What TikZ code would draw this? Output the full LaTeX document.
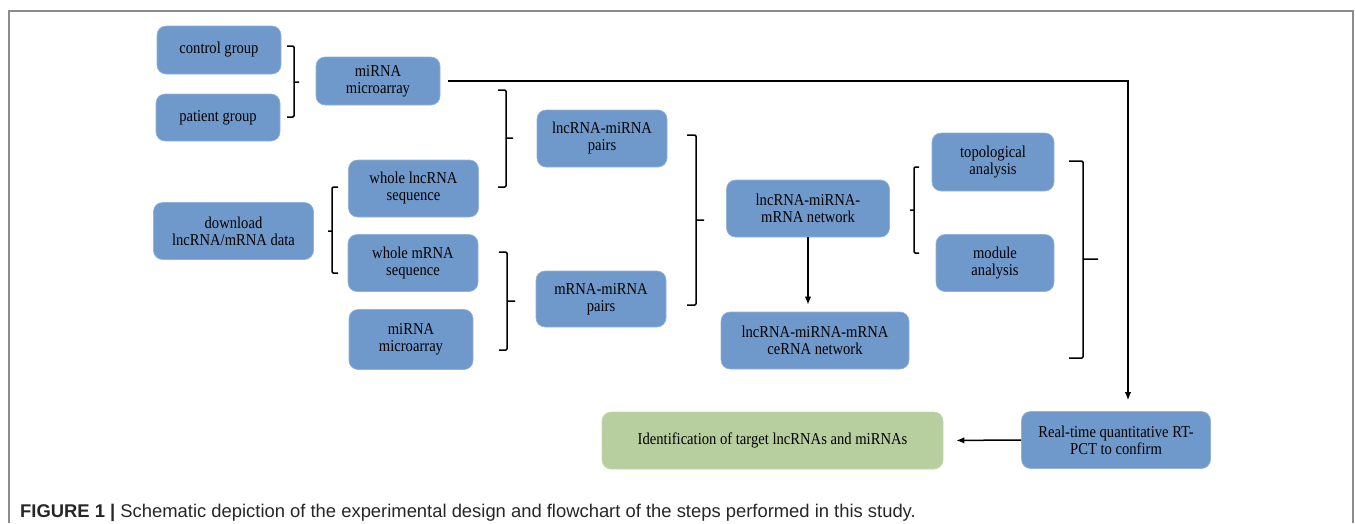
\documentclass[tikz,border=0pt]{standalone}
\usepackage{fontspec}
\setmainfont{Liberation Serif}[FakeStretch=0.88]
\newfontfamily\capfont{Liberation Sans}
\usepackage{xcolor}
\usetikzlibrary{arrows.meta,positioning}
\definecolor{boxblue}{HTML}{7099CB}
\definecolor{boxgreen}{HTML}{B7CE9E}
\definecolor{framegray}{HTML}{8C8C8C}

\begin{document}
\begin{tikzpicture}[
  x=1pt,y=-1pt,
  box/.style={draw=boxblue!75!white,line width=0.6pt,fill=boxblue,rounded corners=9pt,
              align=center,inner sep=0pt,
              font=\fontsize{16.6}{17}\selectfont},
  result/.style={box,fill=boxgreen,draw=boxgreen!80!white},
  flow/.style={-{Latex[length=8pt,width=6.5pt]},line width=1.5pt},
  brace/.style={line width=1.5pt,rounded corners=1.2pt}
]
\useasboundingbox (0,0) rectangle (1355,523);
\draw[framegray,line width=1.5pt] (9,523) -- (9,11) -- (1353,11) -- (1353,523);

% input groups
\node[box,minimum width=124pt,minimum height=48pt] (ctrl) at (219,50) {control group};
\node[box,minimum width=124pt,minimum height=47pt] (pat) at (218,117.5) {patient group};
\node[box,minimum width=124pt,minimum height=48pt] (mirA) at (378,81) {miRNA\\microarray};
\node[box,minimum width=160pt,minimum height=57pt] (dl) at (233.5,231) {download\\lncRNA/mRNA data};
\node[box,minimum width=130pt,minimum height=57pt] (wlnc) at (413.5,188.5) {whole lncRNA\\sequence};
\node[box,minimum width=130pt,minimum height=57pt] (wm) at (413,263) {whole mRNA\\sequence};
\node[box,minimum width=124pt,minimum height=60pt] (mirB) at (411,339.5) {miRNA\\microarray};

% pairs and network
\node[box,minimum width=130pt,minimum height=57pt] (lpair) at (602,138.5) {lncRNA-miRNA\\pairs};
\node[box,minimum width=130pt,minimum height=56pt] (mpair) at (601,299) {mRNA-miRNA\\pairs};
\node[box,minimum width=163pt,minimum height=57pt] (net) at (808,208.5) {lncRNA-miRNA-\\mRNA network};
\node[box,minimum width=188pt,minimum height=57pt] (cerna) at (815,340.5) {lncRNA-miRNA-mRNA\\ceRNA network};
\node[box,minimum width=122pt,minimum height=58pt] (topo) at (993,162) {topological\\analysis};
\node[box,minimum width=118pt,minimum height=57pt] (modu) at (995,263) {module\\analysis};

% validation
\node[box,minimum width=189pt,minimum height=57pt] (rt) at (1116,440) {Real-time quantitative RT-\\PCT to confirm};
\node[result,minimum width=341pt,minimum height=57pt] (ident) at (772.5,440.5) {Identification of target lncRNAs and miRNAs};

% brackets
\draw[brace] (287,46) -- (294,46) -- (294,117) -- (287,117) (294,82) -- (299,82);
\draw[brace] (498,90) -- (506,90) -- (506,187) -- (498,187) (506,138) -- (513,138);
\draw[brace] (338,187) -- (332,187) -- (332,273) -- (338,273) (332,231) -- (328,231);
\draw[brace] (499,252) -- (507,252) -- (507,350) -- (499,350) (507,301) -- (515,301);
\draw[brace] (687,135) -- (696,135) -- (696,305) -- (687,305) (696,220) -- (704,220);
\draw[brace] (919,167) -- (914,167) -- (914,253) -- (919,253) (914,210) -- (910,210);
\draw[brace] (1069,161) -- (1083,161) -- (1083,358) -- (1069,358) (1083,259) -- (1098,259);

% connectors
\coordinate (turn) at (1128,81);
\draw[flow,shorten >=11pt] ([xshift=8pt]mirA.east) -- (turn) -- (turn |- rt.north);
\draw[flow,shorten >=7pt] (net.south) -- (net.south |- cerna.north);
\draw[flow,shorten >=13pt] (rt.west) -- (ident.east);

% caption
\node[anchor=base west,inner sep=0pt,font=\capfont\fontsize{18.4}{20}\selectfont,text=black!85] (cap) at (20,517)
  {\bfseries FIGURE 1 |\mdseries\ Schematic depiction of the experimental design and flowchart of the steps performed in this study.};
\end{tikzpicture}
\end{document}
